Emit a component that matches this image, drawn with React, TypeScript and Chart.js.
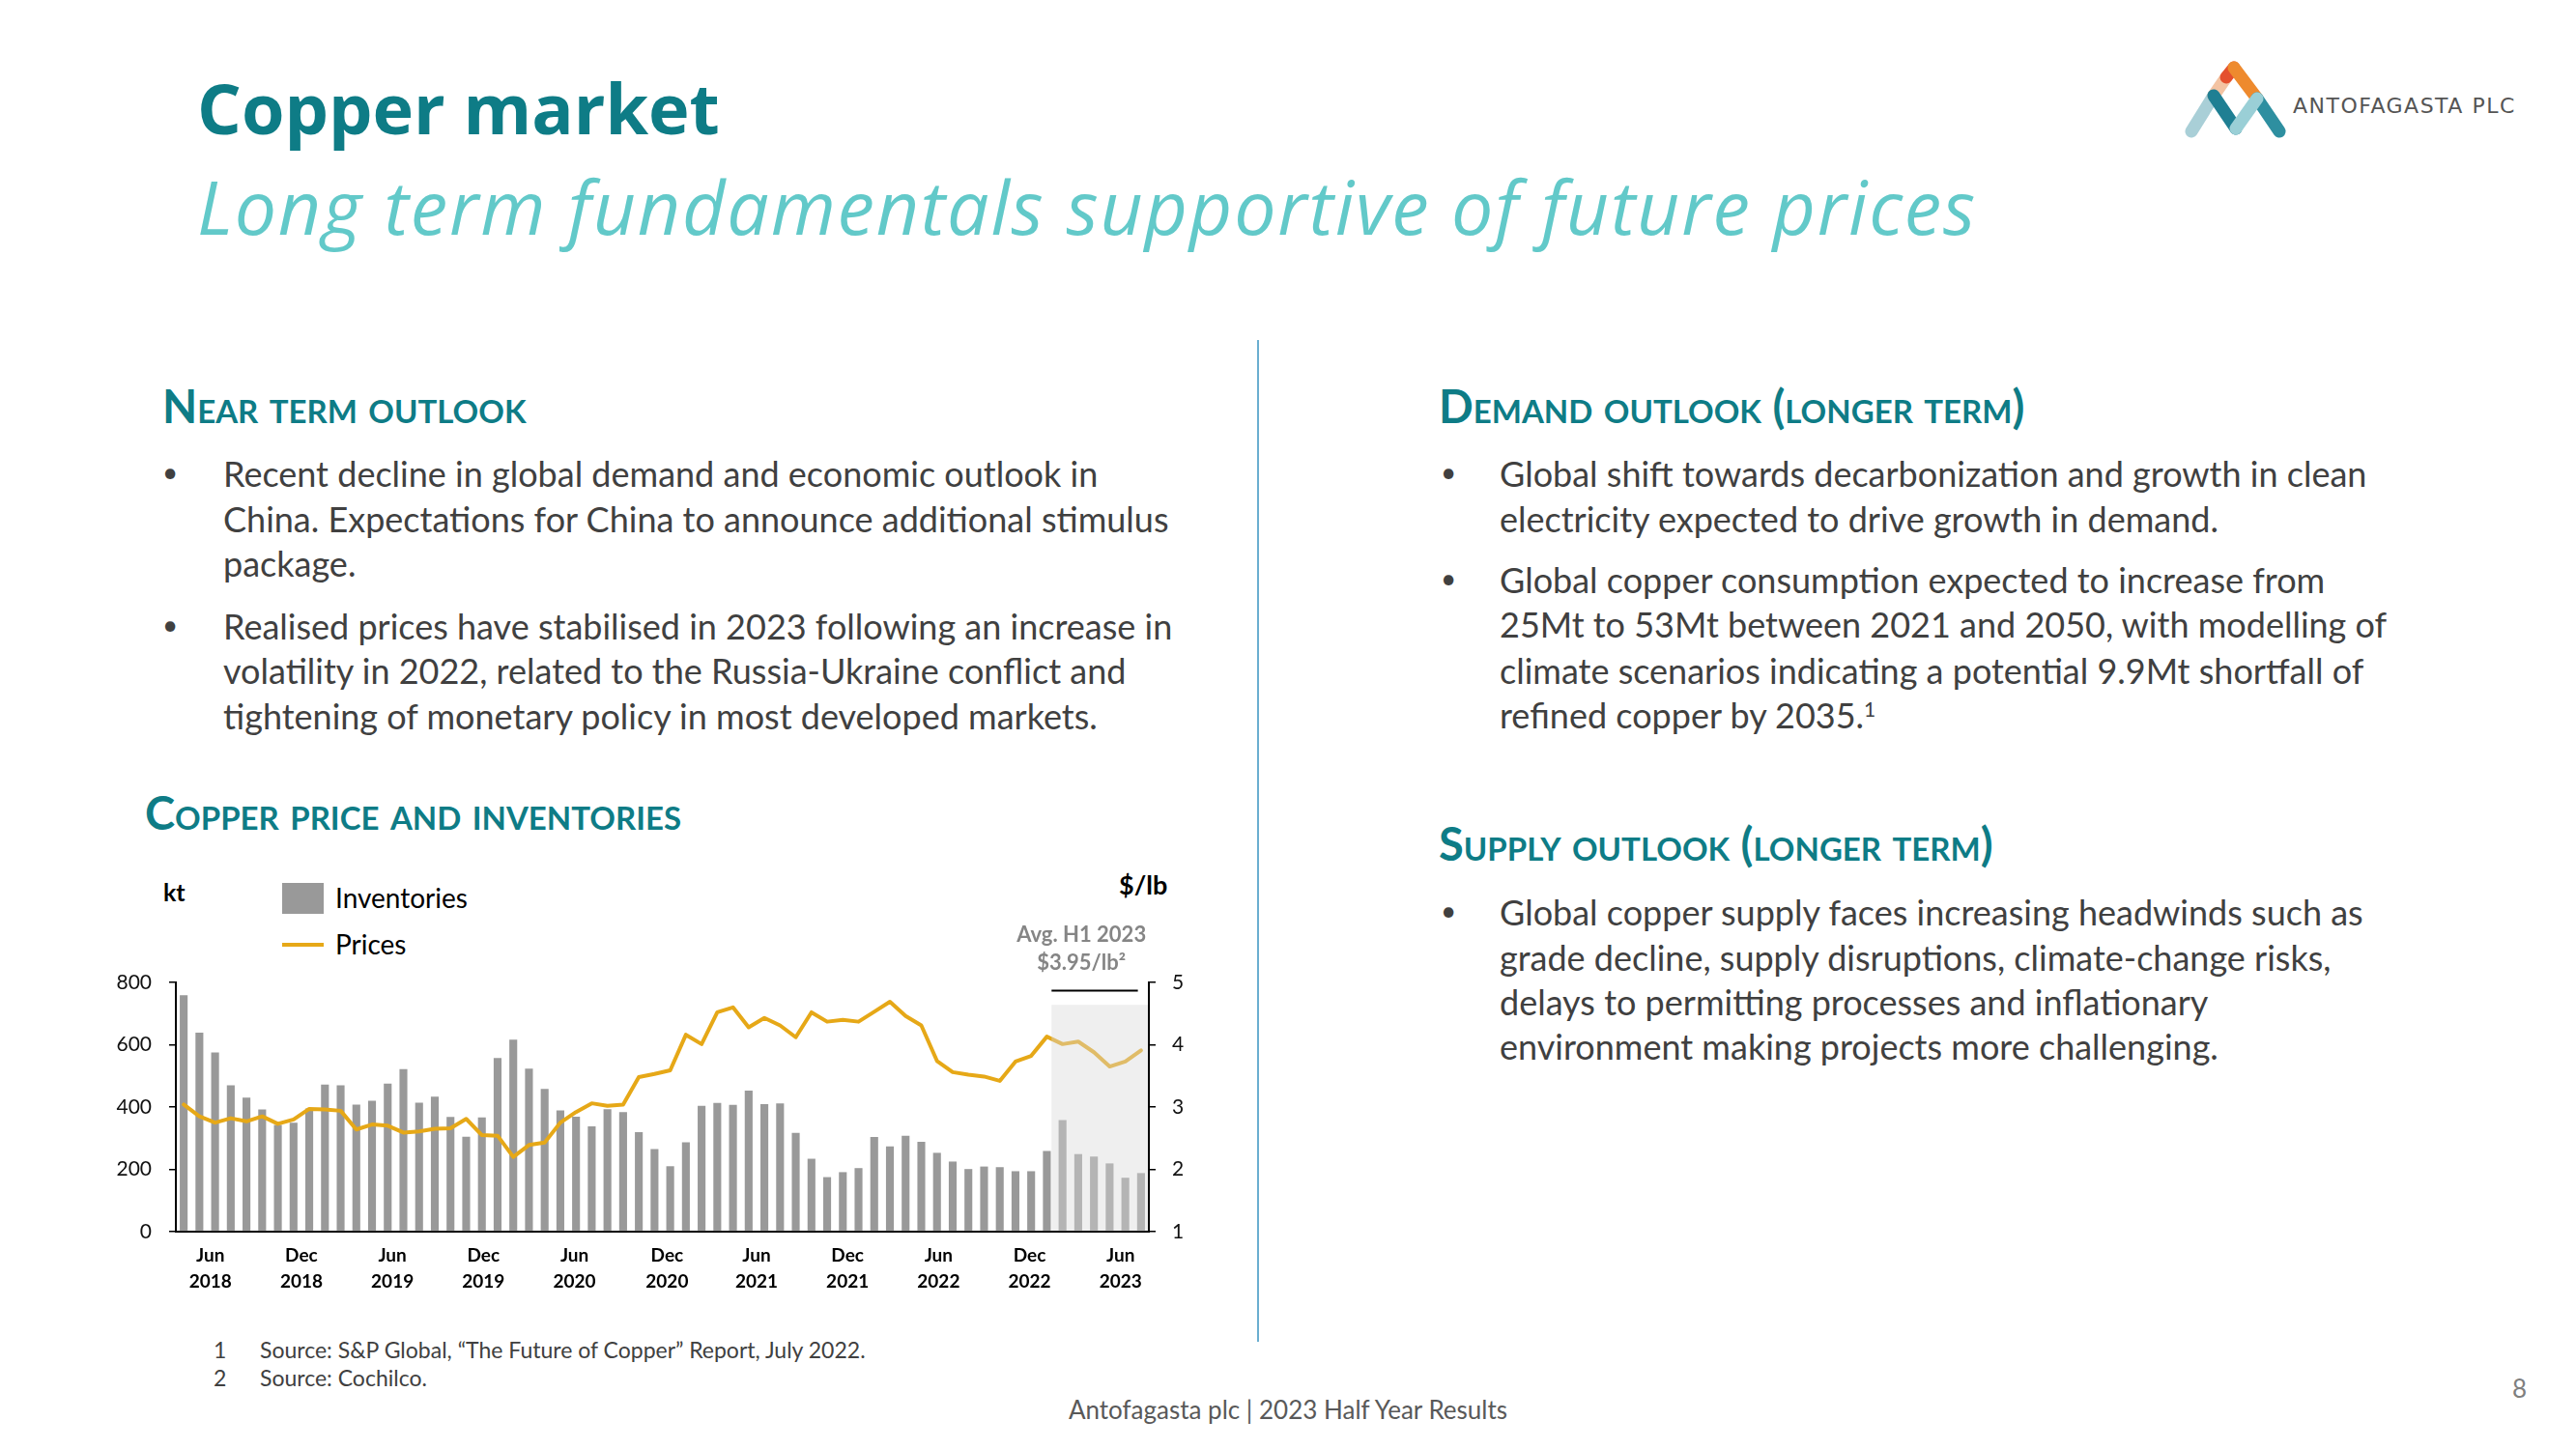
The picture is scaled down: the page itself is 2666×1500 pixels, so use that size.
import React, { useEffect, useRef } from "react";
import { Chart, registerables } from "chart.js";

Chart.register(...registerables);

// ---------- DATA ----------
const categories = [
  "2018-05", "2018-06", "2018-07", "2018-08", "2018-09", "2018-10", "2018-11", "2018-12",
  "2019-01", "2019-02", "2019-03", "2019-04", "2019-05", "2019-06", "2019-07", "2019-08", "2019-09", "2019-10", "2019-11", "2019-12",
  "2020-01", "2020-02", "2020-03", "2020-04", "2020-05", "2020-06", "2020-07", "2020-08", "2020-09", "2020-10", "2020-11", "2020-12",
  "2021-01", "2021-02", "2021-03", "2021-04", "2021-05", "2021-06", "2021-07", "2021-08", "2021-09", "2021-10", "2021-11", "2021-12",
  "2022-01", "2022-02", "2022-03", "2022-04", "2022-05", "2022-06", "2022-07", "2022-08", "2022-09", "2022-10", "2022-11", "2022-12",
  "2023-01", "2023-02", "2023-03", "2023-04", "2023-05", "2023-06",
];

// Inventories, kt
const inventories = [
  759, 639, 575, 470, 430, 392, 343, 350, 395, 472,
  470, 408, 420, 475, 522, 414, 433, 368, 305, 367,
  557, 616, 523, 458, 389, 369, 338, 393, 384, 319,
  265, 210, 287, 404, 413, 407, 453, 409, 412, 317,
  234, 175, 191, 204, 304, 274, 308, 288, 253, 225,
  201, 209, 207, 194, 194, 259, 358, 249, 241, 219,
  173, 188,
];

// Prices, $/lb
const prices = [
  3.04, 2.85, 2.75, 2.82, 2.77, 2.85, 2.73, 2.8, 2.97, 2.96,
  2.94, 2.64, 2.72, 2.7, 2.59, 2.61, 2.65, 2.66, 2.81, 2.55,
  2.54, 2.2, 2.39, 2.43, 2.75, 2.92, 3.06, 3.02, 3.04, 3.48,
  3.53, 3.59, 4.16, 4.01, 4.52, 4.6, 4.28, 4.43, 4.31, 4.12,
  4.52, 4.37, 4.4, 4.37, 4.53, 4.69, 4.46, 4.31, 3.74, 3.56,
  3.52, 3.49, 3.42, 3.73, 3.82, 4.13, 4.01, 4.05, 3.88, 3.65,
  3.73, 3.91,
];

// x-axis tick labels, and where the reference places them (in category units)
const xTickLabels = [
  ["Jun", "2018"], ["Dec", "2018"], ["Jun", "2019"], ["Dec", "2019"], ["Jun", "2020"], ["Dec", "2020"],
  ["Jun", "2021"], ["Dec", "2021"], ["Jun", "2022"], ["Dec", "2022"], ["Jun", "2023"],
];
const xTickAt = [1.7, 7.5, 13.3, 19.1, 24.9, 30.8, 36.5, 42.3, 48.1, 53.9, 59.7];
const leftTicks = [0, 200, 400, 600, 800];
const rightTicks = [1, 2, 3, 4, 5];

// H1 2023 highlight
const shadeStartIndex = 55.3;
const shadeTopPrice = 4.64;
const avgLineFrom = 55.3;
const avgLineTo = 60.8;
const avgLinePrice = 4.87;
const avgLabelIndex = 57.2;
const avgLabel = ["Avg. H1 2023", "$3.95/lb\u00B2"];

// ---------- STYLE ----------
const TEAL = "#0E7C86";
const LIGHT_TEAL = "#62C9C9";
const BODY = "#404040";
const GOLD = "#E6A817";
const BARGRAY = "#999999";
const BODY_FONT = "Lato, 'Open Sans', sans-serif";
const BODY_SIZE = 36;

const h1Plugin = {
  id: "h1Highlight",
  afterDatasetsDraw(chart: any) {
    const { ctx, chartArea, scales } = chart;
    const x = scales.x;
    const yr = scales.y1;
    const x0 = x.getPixelForValue(shadeStartIndex);
    const top = yr.getPixelForValue(shadeTopPrice);
    ctx.save();
    ctx.fillStyle = "rgba(217,217,217,0.42)";
    ctx.fillRect(x0, top, chartArea.right - 1 - x0, chartArea.bottom - 1 - top);
    const ya = yr.getPixelForValue(avgLinePrice);
    ctx.strokeStyle = "#000";
    ctx.lineWidth = 2;
    ctx.beginPath();
    ctx.moveTo(x.getPixelForValue(avgLineFrom), ya);
    ctx.lineTo(x.getPixelForValue(avgLineTo), ya);
    ctx.stroke();
    ctx.fillStyle = "#858585";
    ctx.font = "bold 22px Lato";
    ctx.textAlign = "center";
    ctx.textBaseline = "middle";
    const cx = x.getPixelForValue(avgLabelIndex);
    ctx.fillText(avgLabel[0], cx, chartArea.top - 49);
    ctx.fillText(avgLabel[1], cx, chartArea.top - 20);
    ctx.restore();
  },
};

function CopperChart() {
  const ref = useRef<HTMLCanvasElement | null>(null);
  useEffect(() => {
    if (!ref.current) return;
    const chart = new Chart(ref.current, {
      type: "bar",
      data: {
        labels: categories,
        datasets: [
          {
            type: "line",
            label: "Prices",
            data: prices,
            yAxisID: "y1",
            borderColor: GOLD,
            borderWidth: 4,
            pointRadius: 0,
            tension: 0,
            borderJoinStyle: "round",
            borderCapStyle: "round",
            order: 0,
          } as any,
          {
            type: "bar",
            label: "Inventories",
            data: inventories,
            yAxisID: "y",
            backgroundColor: BARGRAY,
            categoryPercentage: 1,
            barPercentage: 0.5,
            order: 1,
          } as any,
        ],
      },
      options: {
        animation: false,
        responsive: false,
        maintainAspectRatio: false,
        devicePixelRatio: 1,
        layout: { padding: { top: 137, left: 0, right: 0, bottom: 0 } },
        plugins: { legend: { display: false }, tooltip: { enabled: false }, title: { display: false } },
        scales: {
          x: {
            grid: { display: false, drawTicks: false },
            border: { display: true, color: "#000", width: 2 },
            afterBuildTicks: (s: any) => { s.ticks = xTickAt.map((v) => ({ value: v })); },
            ticks: {
              autoSkip: false,
              maxRotation: 0,
              minRotation: 0,
              padding: 11,
              color: "#000",
              font: { family: "Lato", size: 19, weight: "bold", lineHeight: 1.45 },
              callback: (_v: any, i: number) => xTickLabels[i],
            },
            afterFit: (s: any) => { s.height = 75; },
          },
          y: {
            position: "left",
            min: 0,
            max: 800,
            afterBuildTicks: (s: any) => { s.ticks = leftTicks.map((v) => ({ value: v })); },
            grid: { drawOnChartArea: false, drawTicks: true, tickLength: 7, color: "#000", lineWidth: 1.5 },
            border: { display: true, color: "#000", width: 2 },
            ticks: { padding: 18, color: "#111", font: { family: "Lato", size: 21 } },
            afterFit: (s: any) => { s.width = 82; },
          },
          y1: {
            position: "right",
            min: 1,
            max: 5,
            afterBuildTicks: (s: any) => { s.ticks = rightTicks.map((v) => ({ value: v })); },
            grid: { drawOnChartArea: false, drawTicks: true, tickLength: 7, color: "#000", lineWidth: 1.5 },
            border: { display: true, color: "#000", width: 2 },
            ticks: { padding: 17, color: "#111", font: { family: "Lato", size: 21 } },
            afterFit: (s: any) => { s.width = 61; },
          },
        },
      } as any,
      plugins: [h1Plugin],
    });
    return () => chart.destroy();
  }, []);
  return (
    <canvas
      ref={ref}
      width={1150}
      height={470}
      style={{ position: "absolute", left: 100, top: 880, width: 1150, height: 470 }}
    />
  );
}

function Txt({ x, y, size, children, style }: any) {
  return (
    <div
      style={{
        position: "absolute",
        left: x,
        top: y - size * 0.68,
        fontSize: size,
        lineHeight: `${size * 1.2}px`,
        whiteSpace: "nowrap",
        fontFamily: BODY_FONT,
        color: BODY,
        ...style,
      }}
    >
      {children}
    </div>
  );
}

function Heading({ x, y, children }: any) {
  return (
    <Txt x={x} y={y} size={47} style={{ color: TEAL, fontWeight: 700, fontVariant: "small-caps" }}>
      {children}
    </Txt>
  );
}

function Bullets({ x, tx, lines }: any) {
  return (
    <>
      {lines.map((l: any, i: number) => (
        <React.Fragment key={i}>
          {l.bullet && <Txt x={x} y={l.y - 2} size={28}>{"\u2022"}</Txt>}
          <Txt x={tx} y={l.y} size={BODY_SIZE}>{l.t}</Txt>
        </React.Fragment>
      ))}
    </>
  );
}

function Logo() {
  const sw = 13;
  return (
    <svg width={130} height={100} viewBox="0 0 130 100" style={{ position: "absolute", left: 2248, top: 56 }}>
      <g strokeLinecap="round" fill="none" strokeWidth={sw}>
        <line x1={20} y1={80} x2={43} y2={43} stroke="#A9CFD7" />
        <line x1={43} y1={43} x2={56} y2={24} stroke="#F3C3A2" />
        <line x1={56} y1={24} x2={64} y2={14} stroke="#E4502E" />
        <line x1={64} y1={14} x2={88} y2={46} stroke="#EE8A2E" />
        <line x1={88} y1={46} x2={111} y2={80} stroke="#2E8FA0" />
        <line x1={43} y1={43} x2={66} y2={77} stroke="#1F7F93" />
        <line x1={66} y1={77} x2={88} y2={46} stroke="#9ACFD6" />
      </g>
    </svg>
  );
}

export default function App() {
  return (
    <div style={{ position: "fixed", left: 0, top: 0, width: 2666, height: 1500, background: "#fff", overflow: "hidden" }}>
      {/* Title */}
      <div style={{ position: "absolute", left: 204, top: 75, fontFamily: "'Open Sans', sans-serif", fontWeight: 700, fontSize: 72, lineHeight: "72px", color: TEAL, whiteSpace: "nowrap", letterSpacing: 0 }}>
        Copper market
      </div>
      <div style={{ position: "absolute", left: 204, top: 175, fontFamily: "'Open Sans', sans-serif", fontStyle: "italic", fontSize: 77, lineHeight: "77px", color: LIGHT_TEAL, whiteSpace: "nowrap", letterSpacing: 1.8 }}>
        Long term fundamentals supportive of future prices
      </div>

      <Logo />
      <div style={{ position: "absolute", left: 2373, top: 95, fontFamily: "'DejaVu Sans', sans-serif", fontSize: 22, lineHeight: "30px", color: "#555", letterSpacing: 1.5, whiteSpace: "nowrap" }}>
        ANTOFAGASTA PLC
      </div>

      {/* Divider */}
      <div style={{ position: "absolute", left: 1301, top: 352, width: 2, height: 1037, background: "#6AAED0" }} />

      {/* Left column */}
      <Heading x={168} y={424}>Near term outlook</Heading>
      <Bullets
        x={168}
        tx={231}
        lines={[
          { y: 493, t: "Recent decline in global demand and economic outlook in", bullet: true },
          { y: 540, t: "China. Expectations for China to announce additional stimulus" },
          { y: 586, t: "package." },
          { y: 651, t: "Realised prices have stabilised in 2023 following an increase in", bullet: true },
          { y: 697, t: "volatility in 2022, related to the Russia-Ukraine conflict and" },
          { y: 744, t: "tightening of monetary policy in most developed markets." },
        ]}
      />
      <Heading x={150} y={845}>Copper price and inventories</Heading>

      {/* Chart labels and legend */}
      <Txt x={169} y={925} size={25} style={{ color: "#000", fontWeight: 700 }}>kt</Txt>
      <Txt x={1158} y={918} size={27} style={{ color: "#000", fontWeight: 700 }}>$/lb</Txt>
      <div style={{ position: "absolute", left: 292, top: 914, width: 43, height: 32, background: BARGRAY }} />
      <Txt x={347} y={932} size={28} style={{ color: "#000" }}>Inventories</Txt>
      <div style={{ position: "absolute", left: 292, top: 976, width: 43, height: 4, background: GOLD }} />
      <Txt x={347} y={980} size={28} style={{ color: "#000" }}>Prices</Txt>

      <CopperChart />

      {/* Right column */}
      <Heading x={1489} y={424}>Demand outlook (longer term)</Heading>
      <Bullets
        x={1491}
        tx={1552}
        lines={[
          { y: 493, t: "Global shift towards decarbonization and growth in clean", bullet: true },
          { y: 540, t: "electricity expected to drive growth in demand." },
          { y: 603, t: "Global copper consumption expected to increase from", bullet: true },
          { y: 649, t: "25Mt to 53Mt between 2021 and 2050, with modelling of" },
          { y: 697, t: "climate scenarios indicating a potential 9.9Mt shortfall of" },
          { y: 743, t: <>refined copper by 2035.<sup style={{ fontSize: 21, verticalAlign: "top", lineHeight: "30px" }}>1</sup></> },
        ]}
      />
      <Heading x={1489} y={877}>Supply outlook (longer term)</Heading>
      <Bullets
        x={1491}
        tx={1552}
        lines={[
          { y: 947, t: "Global copper supply faces increasing headwinds such as", bullet: true },
          { y: 994, t: "grade decline, supply disruptions, climate-change risks," },
          { y: 1040, t: "delays to permitting processes and inflationary" },
          { y: 1086, t: "environment making projects more challenging." },
        ]}
      />

      {/* Footnotes */}
      <Txt x={221} y={1400} size={23}>1</Txt>
      <Txt x={269} y={1400} size={23}>{"Source: S&P Global, \u201CThe Future of Copper\u201D Report, July 2022."}</Txt>
      <Txt x={221} y={1429} size={23}>2</Txt>
      <Txt x={269} y={1429} size={23}>Source: Cochilco.</Txt>

      {/* Footer */}
      <div style={{ position: "absolute", left: 0, width: 2666, top: 1443, textAlign: "center", fontFamily: BODY_FONT, fontSize: 26, lineHeight: "32px", color: "#595959" }}>
        Antofagasta plc | 2023 Half Year Results
      </div>
      <Txt x={2600} y={1440} size={26} style={{ color: "#7F7F7F" }}>8</Txt>
    </div>
  );
}
